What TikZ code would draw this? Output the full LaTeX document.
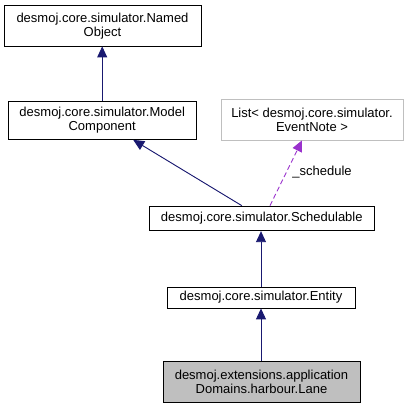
\documentclass[tikz,border=0pt]{standalone}
\usepackage{fontspec}
\setmainfont{Liberation Sans}
\usetikzlibrary{arrows.meta}
\definecolor{edgeblue}{HTML}{191970}
\definecolor{edgepurple}{HTML}{9A32CD}
\definecolor{lightborder}{HTML}{BFBFBF}
\definecolor{lanefill}{HTML}{BFBFBF}
\begin{document}
\begin{tikzpicture}[x=1pt,y=-1pt,
  box/.style={draw=black,line width=0.8pt,rectangle,inner sep=0pt,align=center,
    font=\fontsize{13}{14}\selectfont},
  inherit/.style={draw=edgeblue,line width=0.9pt,-{Triangle[length=11pt,width=10pt]},fill=edgeblue},
  usage/.style={draw=edgepurple,line width=0.9pt,dash pattern=on 5pt off 3pt,
    -{Triangle[length=11pt,width=10pt,fill=edgepurple,sep=0pt]}},
  lbl/.style={font=\fontsize{13}{14}\selectfont,inner sep=0pt}]
\useasboundingbox (0,0) rectangle (413,408);
\node[box,minimum width=197pt,minimum height=40.5pt] (NO) at (102.5,25.75)
  {desmoj.core.simulator.Named\\Object};
\node[box,minimum width=188.5pt,minimum height=38.5pt] (MC) at (102.2,120.2)
  {desmoj.core.simulator.Model\\Component};
\node[box,draw=lightborder,minimum width=182pt,minimum height=41pt] (EN) at (312,119.5)
  {List< desmoj.core.simulator.\\EventNote >};
\node[box,minimum width=225pt,minimum height=24.7pt] (S) at (261.8,218.4)
  {desmoj.core.simulator.Schedulable};
\node[box,minimum width=188pt,minimum height=21pt] (E) at (261,297.5)
  {desmoj.core.simulator.Entity};
\node[box,fill=lanefill,minimum width=197pt,minimum height=41pt] (L) at (261.5,381.5)
  {desmoj.extensions.application\\Domains.harbour.Lane};
\draw[inherit] (MC.north) -- (MC.north |- NO.south);
\draw[inherit] ([xshift=-20pt]S.north) -- ([xshift=31pt]MC.south);
\draw[inherit] (E.north) -- (E.north |- S.south);
\draw[inherit] (L.north -| E.north) -- (E.south);
\draw[usage] ([xshift=8.2pt]S.north) -- ([xshift=-10pt]EN.south);
\node[lbl] (schedlbl) at (322,172) {\_schedule};
\end{tikzpicture}
\end{document}
